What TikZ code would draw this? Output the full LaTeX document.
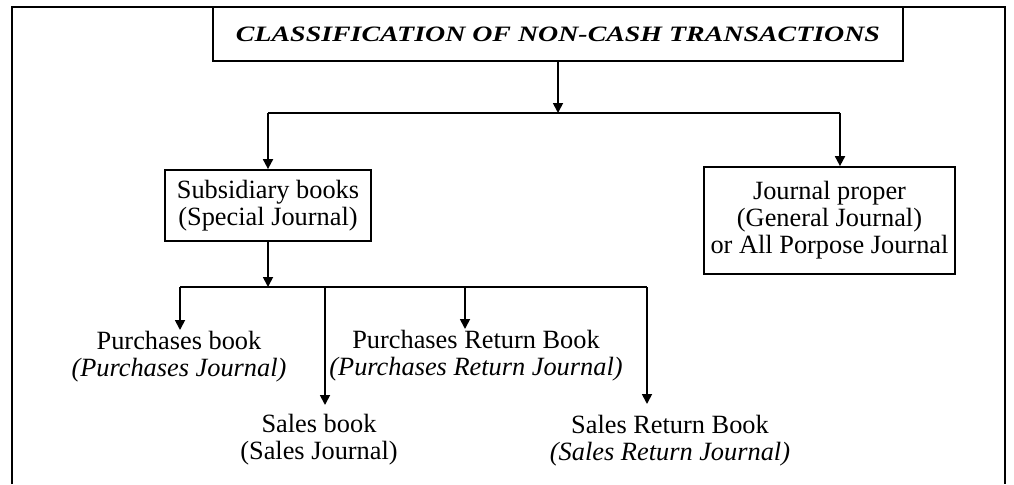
\documentclass[tikz,border=0pt]{standalone}
\usepackage{fontspec}
\setmainfont{Liberation Serif}
\usepackage{graphicx}
\usetikzlibrary{arrows.meta}

\tikzset{
    book box/.style={draw, line width=1pt, align=center, inner sep=0pt, font=\fontsize{15}{15.3}\selectfont},
    book text/.style={align=center, anchor=north, inner sep=0pt, font=\fontsize{15}{15.3}\selectfont}
}

\begin{document}
\begin{tikzpicture}[x=0.02cm, y=-0.02cm, line width=1pt, >={Triangle[length=0.2cm, width=0.2cm]}]
            \useasboundingbox (0, 0) rectangle (1014, 484);
            \draw [line width=0.8pt] (12, 484) -- (12, 7) -- (1005, 7) -- (1005, 484);

            \node (title) [draw, minimum width=13.8cm, minimum height=1.08cm, inner sep=0pt] at (558, 34)
                {\scalebox{1.27}[1]{\fontsize{12.5}{14}\selectfont\bfseries\itshape CLASSIFICATION OF NON-CASH TRANSACTIONS}};

            \node (subsidiary books) [book box, minimum width=4.12cm, minimum height=1.42cm] at (268, 205.5)
                {Subsidiary books\\(Special Journal)};
            \node (journal proper) [book box, minimum width=5.02cm, minimum height=2.14cm] at (829.5, 220.5)
                {Journal proper\\(General Journal)\\or All Porpose Journal};

            \coordinate (left split) at (268, 113);
            \coordinate (right split) at (840, 113);
            \draw [->] (title) -- (title |- left split);
            \draw (left split) -- (right split);
            \draw [->] (left split) -- (subsidiary books);
            \draw [->] (right split) -- (right split |- journal proper.north);

            \node (purchases book) [book text] at (179, 330) {Purchases book\\\textit{(Purchases Journal)}};
            \node (sales book) [book text] at (319, 413) {Sales book\\(Sales Journal)};
            \node (purchases return) [book text] at (476, 329) {Purchases Return Book\\\textit{(Purchases Return Journal)}};
            \node (sales return) [book text] at (670, 414) {Sales Return Book\\\textit{(Sales Return Journal)}};

            \coordinate (purchases split) at (180, 287);
            \coordinate (sales split) at (325, 287);
            \coordinate (purchases return split) at (465, 287);
            \coordinate (sales return split) at (647, 287);
            \draw [->] (subsidiary books) -- (subsidiary books |- purchases split);
            \draw (purchases split) -- (sales return split);

            \foreach \i/\j/\k in {purchases split/purchases book/0pt, sales split/sales book/0.16cm,
                purchases return split/purchases return/0pt, sales return split/sales return/0.2cm}
                {
                    \draw [->, shorten >=\k] (\i) -- (\i |- \j.north);
                }
    \end{tikzpicture}
\end{document}
